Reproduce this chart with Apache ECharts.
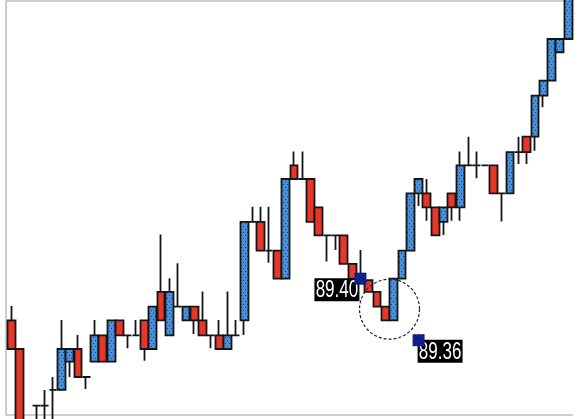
<!DOCTYPE html>
<html><head><meta charset="utf-8">
<script src="https://cdn.jsdelivr.net/npm/echarts@6/dist/echarts.min.js"></script>
<style>html,body{margin:0;padding:0;background:#fff;}#c{width:579px;height:419px;}</style>
</head><body><div id="c"></div>
<script>
// OHLC values
const opens = [89.3729,89.3543,89.3017,89.3175,89.3175,89.3277,89.3277,89.3461,89.3543,89.3361,
89.3461,89.3631,89.3461,89.3729,89.3631,89.3631,89.3729,89.3543,89.3914,89.3631,
89.3818,89.3729,89.3818,89.3729,89.3631,89.3631,89.3543,89.3631,89.3729,89.4369,
89.4369,89.4182,89.4182,89.4001,89.4736,89.4648,89.4648,89.4464,89.4281,89.4281,
89.4281,89.4096,89.4001,89.3990,89.3914,89.3818,89.3729,89.4001,89.4182,89.4554,
89.4554,89.4464,89.4369,89.4554,89.4464,89.4736,89.4736,89.4736,89.4736,89.4554,
89.4554,89.4823,89.4923,89.4923,89.5190,89.5287,89.5472,89.5558];
const closes = [89.3543,89.3017,89.2980,89.3175,89.3175,89.3277,89.3543,89.3543,89.3361,89.3361,
89.3631,89.3461,89.3729,89.3631,89.3631,89.3631,89.3543,89.3818,89.3729,89.3914,
89.3818,89.3818,89.3729,89.3631,89.3631,89.3543,89.3631,89.3631,89.4369,89.4369,
89.4182,89.4182,89.4001,89.4648,89.4648,89.4648,89.4369,89.4281,89.4281,89.4281,
89.4096,89.4001,89.3975,89.3914,89.3818,89.3729,89.4001,89.4182,89.4554,89.4648,
89.4464,89.4281,89.4464,89.4464,89.4736,89.4736,89.4736,89.4736,89.4554,89.4554,
89.4823,89.4823,89.4823,89.5190,89.5287,89.5558,89.5558,89.5900];
const lows = [89.3543,89.3017,89.2950,89.3050,89.3050,89.3050,89.3277,89.3361,89.3361,89.3283,
89.3461,89.3461,89.3461,89.3631,89.3548,89.3631,89.3467,89.3543,89.3729,89.3631,
89.3818,89.3729,89.3641,89.3631,89.3548,89.3543,89.3543,89.3631,89.3634,89.4369,
89.4182,89.4104,89.4001,89.4001,89.4648,89.4648,89.4369,89.4281,89.4111,89.4187,
89.4096,89.4001,89.3975,89.3914,89.3818,89.3729,89.3729,89.4001,89.4182,89.4473,
89.4377,89.4281,89.4284,89.4377,89.4377,89.4736,89.4653,89.4736,89.4554,89.4371,
89.4554,89.4746,89.4746,89.4832,89.5114,89.5287,89.5472,89.5558];
const highs = [89.3823,89.3543,89.3050,89.3175,89.3277,89.3361,89.3732,89.3543,89.3634,89.3361,
89.3732,89.3631,89.3729,89.3729,89.3631,89.3732,89.3729,89.3818,89.4287,89.4003,
89.4100,89.3818,89.3818,89.3916,89.3631,89.3732,89.3916,89.3732,89.4369,89.4468,
89.4468,89.4468,89.4182,89.4648,89.4826,89.4826,89.4648,89.4464,89.4281,89.4281,
89.4281,89.4096,89.4187,89.3990,89.3914,89.3818,89.4001,89.4182,89.4554,89.4648,
89.4648,89.4464,89.4464,89.4554,89.4826,89.4923,89.4826,89.4736,89.4736,89.4554,
89.4823,89.4923,89.4923,89.5190,89.5287,89.5558,89.5558,89.5900];
const categories = opens.map((_, i) => String(i + 1));

// annotations
const markerIndex = [42, 49];
const markerValues = [89.40, 89.36];
const markerSide = ['left', 'right'];
const circleIndex = 45;   // circle centred between bars 45 and 46
const circleValue = 89.3802;

const yMin = 89.3114, yMax = 89.5805;

function tile(w, h, base, dot, pts) {
  const c = document.createElement('canvas'); c.width = w; c.height = h;
  const g = c.getContext('2d');
  g.fillStyle = base; g.fillRect(0, 0, w, h);
  g.fillStyle = dot; pts.forEach(p => g.fillRect(p[0], p[1], 1, 1));
  return c;
}
const bluePattern = { image: tile(4, 6, '#4a90d8', '#1a3a9a', [[1,1],[3,4]]), repeat: 'repeat' };
const navyPattern = { image: tile(4, 4, '#12228e', '#000040', [[1,1],[3,3]]), repeat: 'repeat' };

const ohlc = opens.map((o, i) => [o, closes[i], lows[i], highs[i]]);
const border = { show: true, lineStyle: { color: '#cdcdcd', width: 2 } };

const chart = echarts.init(document.getElementById('c'), null, { renderer: 'canvas' });
chart.setOption({
  animation: false,
  backgroundColor: '#ffffff',
  grid: { left: 7.3, top: 1, width: 565, height: 414, show: false },
  xAxis: [
    { type: 'category', data: categories, boundaryGap: true, axisLine: border,
      axisTick: { show: false }, axisLabel: { show: false }, splitLine: { show: false } },
    { type: 'category', data: categories, position: 'top', boundaryGap: true, axisLine: border,
      axisTick: { show: false }, axisLabel: { show: false }, splitLine: { show: false } }
  ],
  yAxis: { type: 'value', min: yMin, max: yMax, offset: 1.5, axisLine: border,
    axisTick: { show: false }, axisLabel: { show: false }, splitLine: { show: false } },
  series: [
    { type: 'candlestick', data: ohlc, barWidth: '100%', clip: true,
      emphasis: { disabled: true },
      itemStyle: { color: bluePattern, color0: '#e8372a', borderColor: '#151515',
        borderColor0: '#151515', borderColorDoji: '#151515', borderWidth: 1.8 } },
    { type: 'custom', z: 5, clip: false, data: [[circleIndex, circleValue]],
      renderItem: (params, api) => {
        const a = api.coord([api.value(0), api.value(1)]);
        const b = api.coord([api.value(0) + 1, api.value(1)]);
        return { type: 'circle', shape: { cx: (a[0] + b[0]) / 2, cy: a[1], r: 30 },
          style: { fill: null, stroke: '#222222', lineWidth: 1.2, lineDash: [3, 2] } };
      } },
    { type: 'custom', z: 10, clip: false,
      data: markerIndex.map((x, i) => [x, markerValues[i], i]),
      renderItem: (params, api) => {
        const p = api.coord([api.value(0), api.value(1)]);
        const idx = api.value(2);
        const bw = 45, bh = 23;
        const bx = markerSide[idx] === 'left' ? p[0] - 1 - bw : p[0] - 1;
        const by = p[1] - 0.5;
        return { type: 'group', children: [
          { type: 'rect', shape: { x: bx, y: by, width: bw, height: bh }, style: { fill: '#000' } },
          { type: 'text', x: bx + bw / 2, y: by + bh / 2 + 1, scaleX: 0.74,
            style: { text: markerValues[idx].toFixed(2), fill: '#fff',
              font: '23px "Liberation Sans", Arial, sans-serif', align: 'center', verticalAlign: 'middle' } },
          { type: 'rect', shape: { x: p[0] - 6, y: p[1] - 6, width: 12, height: 12 },
            style: { fill: navyPattern } }
        ] };
      } }
  ]
});
</script></body></html>
